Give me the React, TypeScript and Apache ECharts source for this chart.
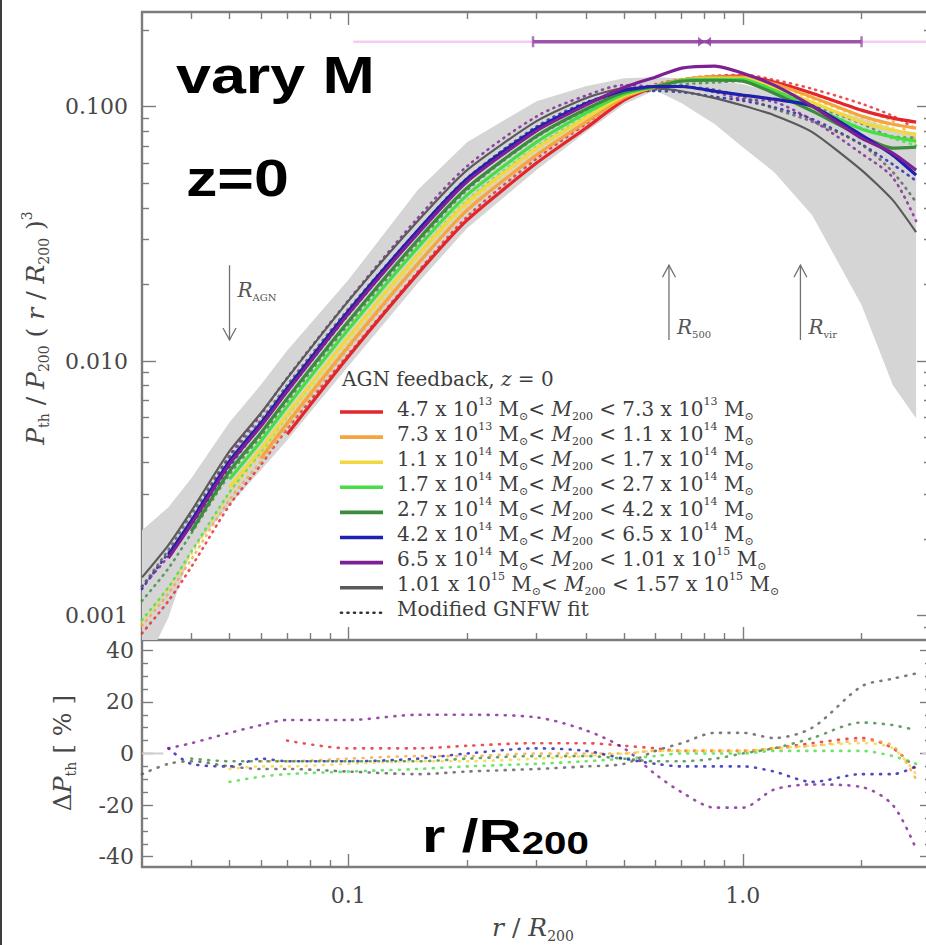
import React, { useEffect, useRef } from 'react';
import * as echarts from 'echarts';

// Radial bins, r / R200
const radius = [0.03, 0.035, 0.04, 0.05, 0.06, 0.07, 0.1, 0.15, 0.2, 0.3, 0.4, 0.5, 0.6, 0.7, 0.85, 1.0, 1.2, 1.5, 2.0, 2.4, 2.75];

// Scaled pressure profiles P_th / P_200 (r / R200)^3, one per M200 bin (null = unresolved)
const simRed = [null, null, null, null, null, 0.00515, 0.0104, 0.022, 0.0358, 0.06, 0.0823, 0.106, 0.12, 0.127, 0.131, 0.132, 0.125, 0.113, 0.0969, 0.0901, 0.0869];
const simOrange = [null, null, null, null, 0.00414, 0.00569, 0.0114, 0.0241, 0.0392, 0.0645, 0.0869, 0.1085, 0.12, 0.127, 0.131, 0.1306, 0.123, 0.109, 0.0918, 0.0853, 0.0823];
const simYellow = [null, null, null, 0.00319, 0.0045, 0.00617, 0.0124, 0.0261, 0.0421, 0.0687, 0.0905, 0.1105, 0.12, 0.127, 0.129, 0.129, 0.119, 0.104, 0.0869, 0.0808, 0.078];
const simLime = [null, null, null, 0.00343, 0.00483, 0.00663, 0.0133, 0.0279, 0.0449, 0.0725, 0.0943, 0.112, 0.12, 0.127, 0.128, 0.128, 0.116, 0.0996, 0.0816, 0.0759, 0.0732];
const simGreen = [null, null, 0.00214, 0.00369, 0.0052, 0.00713, 0.0143, 0.0299, 0.0479, 0.0766, 0.0977, 0.114, 0.12, 0.126, 0.127, 0.126, 0.113, 0.096, 0.0766, 0.0687, 0.0693];
const simBlue = [null, 0.00173, 0.00235, 0.00404, 0.00569, 0.00781, 0.0157, 0.0326, 0.052, 0.0819, 0.1028, 0.116, 0.12, 0.12, 0.115, 0.111, 0.107, 0.1005, 0.0773, 0.0645, 0.0538];
const simPurple = [null, 0.00168, 0.00228, 0.00393, 0.00554, 0.0076, 0.0153, 0.0317, 0.0507, 0.0803, 0.1014, 0.119, 0.1306, 0.1417, 0.1443, 0.1354, 0.1215, 0.1005, 0.0752, 0.0657, 0.0563];
const simGrey = [0.00141, 0.00189, 0.00257, 0.00442, 0.00623, 0.00855, 0.0172, 0.0355, 0.0563, 0.0877, 0.108, 0.118, 0.118, 0.115, 0.108, 0.101, 0.0926, 0.0794, 0.0563, 0.0429, 0.0321];

// Modified GNFW fits for the same bins
const fitRed = [0.00085, 0.00114, 0.00155, 0.00271, 0.0039, 0.00541, 0.0106, 0.0224, 0.0369, 0.0624, 0.0856, 0.1092, 0.1224, 0.1283, 0.1323, 0.1333, 0.1275, 0.1175, 0.1027, 0.0919, 0.0817];
const fitOrange = [0.00091, 0.00122, 0.00166, 0.00285, 0.00402, 0.00552, 0.0112, 0.0239, 0.0388, 0.0645, 0.0869, 0.1085, 0.1212, 0.1283, 0.1323, 0.1319, 0.1255, 0.1123, 0.0964, 0.0879, 0.0741];
const fitYellow = [0.00094, 0.00128, 0.00174, 0.003, 0.00428, 0.00586, 0.0119, 0.0253, 0.0408, 0.0673, 0.0896, 0.1105, 0.1212, 0.1283, 0.1303, 0.1303, 0.1214, 0.1071, 0.0904, 0.0824, 0.0718];
const fitLime = [0.00096, 0.00129, 0.00178, 0.00305, 0.0044, 0.0061, 0.0124, 0.0262, 0.0427, 0.0696, 0.0915, 0.1098, 0.1188, 0.127, 0.128, 0.128, 0.1172, 0.1006, 0.0824, 0.0751, 0.0703];
const fitGreen = [0.00114, 0.00153, 0.0021, 0.00358, 0.00504, 0.00692, 0.0139, 0.029, 0.0469, 0.0758, 0.0967, 0.1117, 0.1164, 0.1222, 0.1245, 0.126, 0.1153, 0.1018, 0.0858, 0.0763, 0.0755];
const fitBlue = [0.00127, 0.00176, 0.00226, 0.00384, 0.00558, 0.00758, 0.0152, 0.0319, 0.052, 0.0835, 0.1038, 0.1137, 0.1152, 0.114, 0.1093, 0.1055, 0.0995, 0.0894, 0.0711, 0.0593, 0.0511];
const fitPurple = [0.0013, 0.00171, 0.00237, 0.00424, 0.00615, 0.00859, 0.0173, 0.0365, 0.0583, 0.0915, 0.1105, 0.1214, 0.1202, 0.1204, 0.114, 0.107, 0.1045, 0.0884, 0.0654, 0.0526, 0.0355];
const fitGrey = [0.0013, 0.00181, 0.00249, 0.0042, 0.00586, 0.00804, 0.016, 0.0327, 0.0524, 0.0824, 0.1026, 0.1133, 0.1192, 0.1196, 0.1166, 0.1091, 0.0982, 0.0873, 0.0709, 0.0553, 0.0421];

// Fit deviation per bin, in per cent
const dRed = [null, null, null, null, null, 5, 2, 2, 3, 4, 4, 3, 2, 1, 1, 1, 2, 4, 6, 2, -6];
const dOrange = [null, null, null, null, -3, -3, -2, -1, -1, 0, 0, 0, 1, 1, 1, 1, 2, 3, 5, 3, -10];
const dYellow = [null, null, null, -6, -5, -5, -4, -3, -3, -2, -1, 0, 1, 1, 1, 1, 2, 3, 4, 2, -8];
const dLime = [null, null, null, -11, -9, -8, -7, -6, -5, -4, -3, -2, -1, 0, 0, 0, 1, 1, 1, -1, -4];
const dGreen = [null, null, -2, -3, -3, -3, -3, -3, -2, -1, -1, -2, -3, -3, -2, 0, 2, 6, 12, 11, 9];
const dBlue = [null, 2, -4, -5, -2, -3, -3, -2, 0, 2, 1, -2, -4, -5, -5, -5, -7, -11, -8, -8, -5];
const dPurple = [null, 2, 4, 8, 11, 13, 13, 15, 15, 14, 9, 2, -8, -15, -21, -21, -14, -12, -13, -20, -37];
const dGrey = [-8, -4, -3, -5, -6, -6, -7, -8, -7, -6, -5, -4, 1, 4, 8, 8, 6, 10, 26, 29, 31];

// Scatter envelope of the full sample
const bandUpper = [0.00216, 0.00266, 0.00346, 0.00575, 0.00804, 0.011, 0.0208, 0.047, 0.0725, 0.1051, 0.1204, 0.1294, 0.1306, 0.1294, 0.1271, 0.1226, 0.114, 0.1032, 0.0901, 0.0823, 0.078];
const bandLower = [0.0006, 0.00098, 0.0018, 0.00271, 0.00372, 0.00488, 0.00954, 0.0202, 0.0333, 0.0563, 0.0794, 0.1023, 0.1161, 0.1032, 0.0853, 0.0693, 0.0553, 0.0374, 0.0166, 0.00804, 0.00596];

// Characteristic radii (arrow from -> to, label height)
const markerRadius = [0.05, 0.65, 1.4];
const markerSub = ['AGN', '500', 'vir'];
const markerFrom = [0.0238, 0.0121, 0.0121];
const markerTo = [0.0121, 0.0238, 0.0238];
const markerLabelAt = [0.019, 0.0136, 0.0136];

// Range bar along the top of the profile panel
const rangeLevel = 0.18;
const rangeBar = [0.294, 2.0];
const rangeMid = 0.8;
const rangeGuide = [0.103, 3];

// Zero guide stubs in the residual panel
const zeroStubLeft = [0.03, 0.034];
const zeroStubRight = [2.85, 3];

// Axis ticks and labels
const rMajor = [0.1, 1];
const rMajorLabels = ['0.1', '1.0'];
const rMinor = [0.04, 0.05, 0.06, 0.07, 0.08, 0.09, 0.2, 0.3, 0.4, 0.5, 0.6, 0.7, 0.8, 0.9, 2];
const pMajor = [0.001, 0.01, 0.1];
const pMajorLabels = ['0.001', '0.010', '0.100'];
const pMinor = [0.0009, 0.002, 0.003, 0.004, 0.005, 0.006, 0.007, 0.008, 0.009, 0.02, 0.03, 0.04, 0.05, 0.06, 0.07, 0.08, 0.09, 0.2];
const dMajor = [-40, -20, 0, 20, 40];
const dMajorLabels = ['-40', '-20', '0', '20', '40'];
const dMinor = [-35, -30, -25, -15, -10, -5, 5, 10, 15, 25, 30, 35];

// Legend: mass bins
const binLow = ['4.7', '7.3', '1.1', '1.7', '2.7', '4.2', '6.5', '1.01'];
const binLowExp = ['13', '13', '14', '14', '14', '14', '14', '15'];
const binHigh = ['7.3', '1.1', '1.7', '2.7', '4.2', '6.5', '1.01', '1.57'];
const binHighExp = ['13', '14', '14', '14', '14', '14', '15', '15'];
const binColors = ['#e3262b', '#f5a540', '#f2d83f', '#45df45', '#3d8b3d', '#1f1fb0', '#7d2094', '#5a5a5a'];

const sims = [simRed, simOrange, simYellow, simLime, simGreen, simBlue, simPurple, simGrey];
const fits = [fitRed, fitOrange, fitYellow, fitLime, fitGreen, fitBlue, fitPurple, fitGrey];
const devs = [dRed, dOrange, dYellow, dLime, dGreen, dBlue, dPurple, dGrey];

const R_RANGE = [0.03, 3];
const P_RANGE = [0.0008, 0.2356];
const D_RANGE = [-44, 44];

const SERIF = "'DejaVu Serif', 'Liberation Serif', serif";
const SANS = "'Liberation Sans', Arial, sans-serif";
const INK = '#474747';
const FRAME = '#7c7c7c';

const pairs = (ys: (number | null)[]) =>
  radius.map((r, i) => (ys[i] == null ? null : [r, ys[i]])).filter((p) => p !== null);

const labelFor = (vals: number[], labels: string[], log: boolean) => (v: number) => {
  let best = 0;
  let bestD = Infinity;
  vals.forEach((t, i) => {
    const d = log ? Math.abs(Math.log10(t) - Math.log10(v)) : Math.abs(t - v);
    if (d < bestD) {
      bestD = d;
      best = i;
    }
  });
  return labels[best];
};

const lineStyleFrame = { color: FRAME, width: 2.4 };
const tickStyle = { color: FRAME, width: 1.4 };

function makeAxis(kind: 'r' | 'p' | 'd', gridIndex: number, position: string, ticks: number[] | null, length: number, line: boolean, label: any) {
  const range = kind === 'r' ? R_RANGE : kind === 'p' ? P_RANGE : D_RANGE;
  return {
    type: kind === 'd' ? 'value' : 'log',
    logBase: 10,
    min: range[0],
    max: range[1],
    gridIndex,
    position,
    axisLine: { show: line, onZero: false, lineStyle: lineStyleFrame },
    axisTick: ticks
      ? { show: true, inside: true, length, customValues: ticks, lineStyle: tickStyle }
      : { show: false },
    axisLabel: label || { show: false },
    splitLine: { show: false },
    minorTick: { show: false },
    axisPointer: { show: false },
  };
}

const richBase = (size: number, color: string) => ({
  n: { fontFamily: SERIF, fontSize: size, fill: color, lineHeight: size + 6 },
  i: { fontFamily: SERIF, fontSize: size, fontStyle: 'italic', fill: color, lineHeight: size + 6 },
  sup: { fontFamily: SERIF, fontSize: Math.round(size * 0.55), fill: color, lineHeight: Math.round(size * 0.55), verticalAlign: 'top' },
  sub: { fontFamily: SERIF, fontSize: Math.round(size * 0.55), fill: color, lineHeight: Math.round(size * 0.55), verticalAlign: 'bottom' },
});

function buildOption() {
  const xAxis = [
    makeAxis('r', 0, 'bottom', rMajor, 13, true, null),
    makeAxis('r', 0, 'bottom', rMinor, 7, false, null),
    makeAxis('r', 0, 'top', rMajor, 13, true, null),
    makeAxis('r', 0, 'top', rMinor, 7, false, null),
    makeAxis('r', 1, 'bottom', rMajor, 13, true, {
      show: true,
      customValues: rMajor,
      formatter: labelFor(rMajor, rMajorLabels, true),
      fontFamily: SERIF,
      fontSize: 22,
      color: INK,
      margin: 17,
    }),
    makeAxis('r', 1, 'bottom', rMinor, 7, false, null),
  ];
  const yAxis = [
    makeAxis('p', 0, 'left', pMajor, 14, true, {
      show: true,
      customValues: pMajor,
      formatter: labelFor(pMajor, pMajorLabels, true),
      fontFamily: SERIF,
      fontSize: 22,
      color: INK,
      margin: 14,
    }),
    makeAxis('p', 0, 'left', pMinor, 7, false, null),
    makeAxis('p', 0, 'right', pMajor, 14, true, null),
    makeAxis('p', 0, 'right', pMinor, 7, false, null),
    makeAxis('d', 1, 'left', dMajor, 11, true, {
      show: true,
      customValues: dMajor,
      formatter: labelFor(dMajor, dMajorLabels, false),
      fontFamily: SERIF,
      fontSize: 22,
      color: INK,
      margin: 8,
    }),
    makeAxis('d', 1, 'left', dMinor, 6, false, null),
    makeAxis('d', 1, 'right', dMajor, 11, true, null),
    makeAxis('d', 1, 'right', dMinor, 6, false, null),
  ];

  const series: any[] = [];

  // Scatter envelope
  series.push({
    type: 'custom',
    xAxisIndex: 0,
    yAxisIndex: 0,
    clip: true,
    silent: true,
    z: 1,
    data: [[radius[0], bandUpper[0]]],
    renderItem: (_params: any, api: any) => {
      const pts: number[][] = [];
      radius.forEach((r, i) => pts.push(api.coord([r, bandUpper[i]])));
      for (let i = radius.length - 1; i >= 0; i--) pts.push(api.coord([radius[i], bandLower[i]]));
      return { type: 'polygon', shape: { points: pts }, style: { fill: '#d5d5d5' } };
    },
  });

  // Range bar
  series.push({
    type: 'line',
    xAxisIndex: 0,
    yAxisIndex: 0,
    z: 2,
    symbol: 'none',
    silent: true,
    data: rangeGuide.map((r) => [r, rangeLevel]),
    lineStyle: { color: '#f3cdf0', width: 2.5 },
  });
  series.push({
    type: 'line',
    xAxisIndex: 0,
    yAxisIndex: 0,
    z: 3,
    symbol: 'none',
    silent: true,
    data: rangeBar.map((r) => [r, rangeLevel]),
    lineStyle: { color: '#9c55ab', width: 3.5 },
  });
  series.push({
    type: 'scatter',
    xAxisIndex: 0,
    yAxisIndex: 0,
    z: 3,
    silent: true,
    symbol: 'rect',
    symbolSize: [2.5, 11],
    itemStyle: { color: '#9c55ab' },
    data: rangeBar.map((r) => [r, rangeLevel]),
  });
  series.push({
    type: 'scatter',
    xAxisIndex: 0,
    yAxisIndex: 0,
    z: 3,
    silent: true,
    symbol: 'path://M0,0 L10,5 L0,10 Z M20,0 L10,5 L20,10 Z',
    symbolSize: [13, 10],
    itemStyle: { color: '#8f3f9f' },
    data: [[rangeMid, rangeLevel]],
  });

  // Fits (dotted)
  fits.forEach((f, k) => {
    series.push({
      type: 'line',
      name: k === 7 ? 'Modified GNFW fit' : undefined,
      xAxisIndex: 0,
      yAxisIndex: 0,
      z: 4,
      symbol: 'none',
      smooth: 0.3,
      silent: true,
      data: pairs(f),
      lineStyle: { color: binColors[k], width: 2.6, type: [1, 5.5], cap: 'round', opacity: 0.8 },
    });
  });

  // Simulated profiles (solid)
  [7, 0, 1, 2, 3, 4, 5, 6].forEach((k) => {
    series.push({
      type: 'line',
      xAxisIndex: 0,
      yAxisIndex: 0,
      z: 5,
      symbol: 'none',
      smooth: 0.2,
      silent: true,
      data: pairs(sims[k]),
      lineStyle: { color: binColors[k], width: k === 7 ? 2.2 : 3.2 },
    });
  });

  // Radius markers
  series.push({
    type: 'custom',
    xAxisIndex: 0,
    yAxisIndex: 0,
    z: 6,
    silent: true,
    data: markerRadius.map((r, i) => [r, markerFrom[i], markerTo[i], markerLabelAt[i]]),
    encode: { x: 0, y: [1, 2, 3] },
    renderItem: (params: any, api: any) => {
      const x = api.value(0);
      const p0 = api.coord([x, api.value(1)]);
      const p1 = api.coord([x, api.value(2)]);
      const pl = api.coord([x, api.value(3)]);
      const dir = p1[1] > p0[1] ? 1 : -1;
      const col = '#707070';
      return {
        type: 'group',
        children: [
          { type: 'line', shape: { x1: p0[0], y1: p0[1], x2: p1[0], y2: p1[1] }, style: { stroke: col, lineWidth: 1.3 } },
          {
            type: 'polyline',
            shape: { points: [[p1[0] - 6.5, p1[1] - dir * 12], [p1[0], p1[1]], [p1[0] + 6.5, p1[1] - dir * 12]] },
            style: { stroke: col, lineWidth: 1.3, fill: 'none' },
          },
          {
            type: 'text',
            x: p0[0] + 8,
            y: pl[1],
            style: {
              text: `{r|R}{s|${markerSub[params.dataIndex]}}`,
              verticalAlign: 'middle',
              align: 'left',
              rich: {
                r: { fontFamily: SERIF, fontSize: 20, fontStyle: 'italic', fill: '#555', lineHeight: 24 },
                s: { fontFamily: SERIF, fontSize: 10, fill: '#555', lineHeight: 10, verticalAlign: 'bottom' },
              },
            },
          },
        ],
      };
    },
  });

  // Residual panel
  series.push({
    type: 'line',
    xAxisIndex: 4,
    yAxisIndex: 4,
    z: 2,
    symbol: 'none',
    silent: true,
    data: zeroStubLeft.map((r) => [r, 0]),
    lineStyle: { color: '#cfcfcf', width: 2 },
  });
  series.push({
    type: 'line',
    xAxisIndex: 4,
    yAxisIndex: 4,
    z: 2,
    symbol: 'none',
    silent: true,
    data: zeroStubRight.map((r) => [r, 0]),
    lineStyle: { color: '#cfcfcf', width: 2 },
  });
  devs.forEach((d, k) => {
    series.push({
      type: 'line',
      xAxisIndex: 4,
      yAxisIndex: 4,
      z: 4,
      symbol: 'none',
      smooth: 0.3,
      silent: true,
      data: pairs(d),
      lineStyle: { color: binColors[k], width: 2.6, type: [1, 7.5], cap: 'round', opacity: 0.8 },
    });
  });

  // Overlay texts, titles and legend
  const graphic: any[] = [];
  graphic.push({ type: 'rect', left: 0, top: 0, shape: { x: 0, y: 0, width: 2, height: 945 }, style: { fill: '#3c3c3c' }, silent: true });

  const bigText = (text: string, x: number, y: number, sx: number, rich?: any) => ({
    type: 'text',
    x,
    y,
    scaleX: sx,
    silent: true,
    z: 20,
    style: {
      text,
      fontFamily: SANS,
      fontWeight: 'bold',
      fontSize: 51,
      fill: '#000',
      align: 'left',
      verticalAlign: 'middle',
      rich,
    },
  });
  graphic.push(bigText('vary M', 176, 75, 1.23));
  graphic.push(bigText('z=0', 186, 178, 1.23));
  graphic.push(
    bigText('{b|r /R}{s|200}', 422, 836, 1.3, {
      b: { fontFamily: SANS, fontWeight: 'bold', fontSize: 46, fill: '#000', lineHeight: 46 },
      s: { fontFamily: SANS, fontWeight: 'bold', fontSize: 31, fill: '#000', lineHeight: 31, verticalAlign: 'bottom' },
    })
  );

  const titleRich = richBase(25, INK);
  const title = (text: string, x: number, y: number, rotate: boolean) => ({
    type: 'text',
    x,
    y,
    rotation: rotate ? Math.PI / 2 : 0,
    silent: true,
    style: { text, fontFamily: SERIF, fontSize: 25, fill: INK, align: 'center', verticalAlign: 'middle', rich: titleRich },
  });
  graphic.push(title('{i|P}{sub|th}{n| / }{i|P}{sub|200}{n| ( }{i|r}{n| / }{i|R}{sub|200}{n| )}{sup|3}', 35, 328, true));
  graphic.push(title('{n|Δ}{i|P}{sub|th}{n| [ % ]}', 62, 753, true));
  graphic.push(title('{i|r}{n| / }{i|R}{sub|200}', 533, 927, false));

  const legRich = richBase(20, '#3d3d3d');
  const legText = (text: string, x: number, y: number) => ({
    type: 'text',
    x,
    y,
    scaleX: 1.0,
    silent: true,
    z: 10,
    style: { text, fontFamily: SERIF, fontSize: 20, fill: '#3d3d3d', align: 'left', verticalAlign: 'middle', rich: legRich },
  });
  graphic.push(legText('{n|AGN feedback, }{i|z}{n| = 0}', 342, 379));
  const rowY0 = 408.5;
  const rowStep = 25.1;
  binLow.forEach((lo, i) => {
    const y = rowY0 + i * rowStep;
    graphic.push({
      type: 'line',
      silent: true,
      z: 10,
      shape: { x1: 340, y1: y + 3.5, x2: 383, y2: y + 3.5 },
      style: { stroke: binColors[i], lineWidth: 3.6 },
    });
    graphic.push(
      legText(
        `{n|${lo} x 10}{sup|${binLowExp[i]}}{n| M}{sub|⊙}{n|< }{i|M}{sub|200}{n| < ${binHigh[i]} x 10}{sup|${binHighExp[i]}}{n| M}{sub|⊙}`,
        397,
        y
      )
    );
  });
  const fy = rowY0 + 8 * rowStep;
  graphic.push({
    type: 'line',
    silent: true,
    z: 10,
    shape: { x1: 341, y1: fy + 3.5, x2: 383, y2: fy + 3.5 },
    style: { stroke: '#333', lineWidth: 2.6, lineDash: [1, 5.5], lineCap: 'round' },
  });
  graphic.push(legText('{n|Modified GNFW fit}', 397, fy));

  return {
    animation: false,
    backgroundColor: '#ffffff',
    grid: [
      { left: 142, top: 12, right: -5, height: 628, containLabel: false, outerBoundsMode: 'none' },
      { left: 142, top: 640, right: -5, height: 227, containLabel: false, outerBoundsMode: 'none' },
    ],
    xAxis,
    yAxis,
    series,
    graphic,
  };
}

export default function App() {
  const ref = useRef<HTMLDivElement>(null);
  useEffect(() => {
    if (!ref.current) return;
    const chart = echarts.init(ref.current, null, { renderer: 'svg' });
    chart.setOption(buildOption() as any);
    return () => chart.dispose();
  }, []);
  return (
    <div
      ref={ref}
      style={{ position: 'absolute', left: 0, top: 0, width: 926, height: 945, background: '#fff' }}
    />
  );
}
